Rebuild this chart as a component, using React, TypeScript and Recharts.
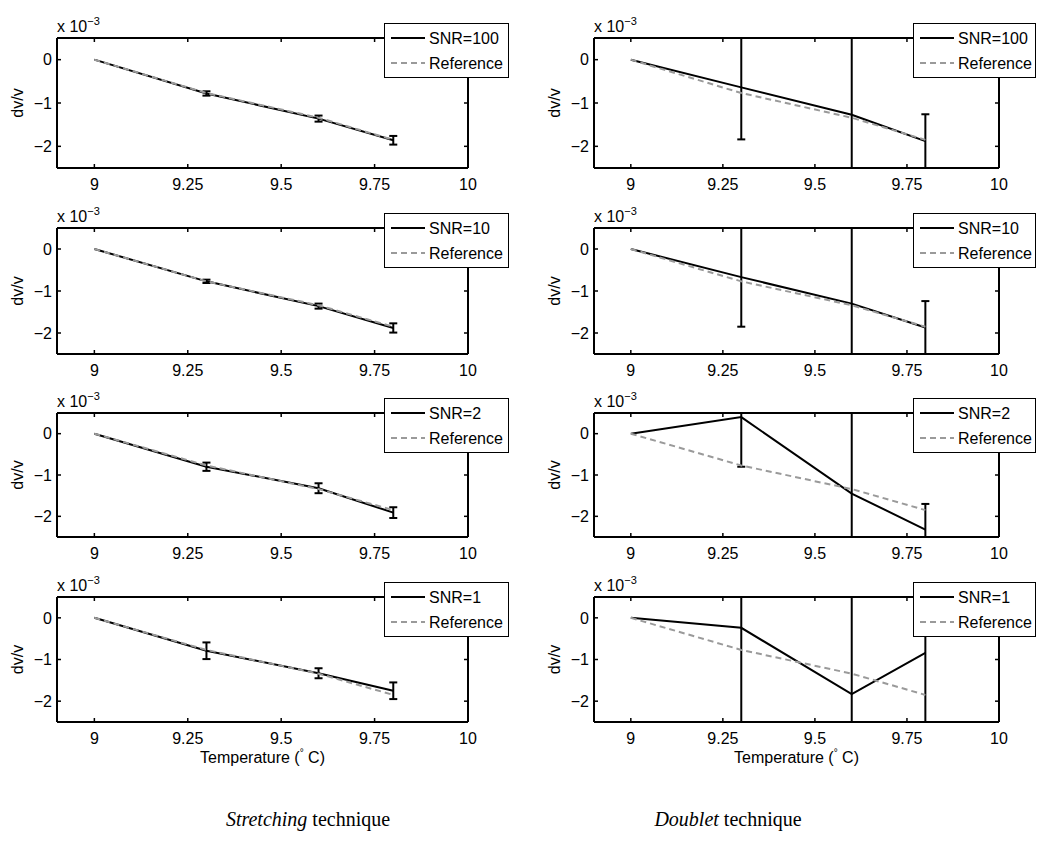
import React from "react"
import { LineChart, Line, XAxis, YAxis, ErrorBar, Legend } from "recharts"

// temperatures of the measurements (deg C)
const temperatures = [9, 9.3, 9.6, 9.8]
// true dv/v, in units of 1e-3
const reference = [0, -0.77, -1.34, -1.85]
const xTicks = [9, 9.25, 9.5, 9.75, 10]
const yTicks = [-2, -1, 0]
const snrLevels = [100, 10, 2, 1]

// Stretching technique: estimated dv/v and error (1e-3)
const stretch100 = [0, -0.78, -1.36, -1.86]
const stretch100Err = [0, 0.05, 0.07, 0.1]
const stretch10 = [0, -0.77, -1.36, -1.88]
const stretch10Err = [0, 0.04, 0.06, 0.11]
const stretch2 = [0, -0.8, -1.32, -1.91]
const stretch2Err = [0, 0.1, 0.12, 0.13]
const stretch1 = [0, -0.79, -1.33, -1.75]
const stretch1Err = [0, 0.2, 0.12, 0.2]

// Doublet technique
const doublet100 = [0, -0.64, -1.27, -1.88]
const doublet100Err = [0, 1.2, 2.0, 0.62]
const doublet10 = [0, -0.67, -1.3, -1.87]
const doublet10Err = [0, 1.18, 2.0, 0.63]
const doublet2 = [0, 0.4, -1.45, -2.32]
const doublet2Err = [0, 1.2, 2.1, 0.62]
const doublet1 = [0, -0.24, -1.83, -0.84]
const doublet1Err = [0, 2.5, 2.5, 1.9]

const stretching = [
  { est: stretch100, err: stretch100Err },
  { est: stretch10, err: stretch10Err },
  { est: stretch2, err: stretch2Err },
  { est: stretch1, err: stretch1Err },
]
const doublet = [
  { est: doublet100, err: doublet100Err },
  { est: doublet10, err: doublet10Err },
  { est: doublet2, err: doublet2Err },
  { est: doublet1, err: doublet1Err },
]

const FONT = '"Liberation Sans", Arial, Helvetica, sans-serif'
const rowTops = [38, 228, 413, 597]
const rowHeights = [130, 126, 124, 125]
const X_DOMAIN: [number, number] = [8.9, 10]
const Y_DOMAIN: [number, number] = [-2.5, 0.5]

const fmtY = (v: number) => (v < 0 ? `\u2212${-v}` : `${v}`)

const boxLine = { stroke: "#000", strokeWidth: 2 }
const tickMark = { stroke: "#000", strokeWidth: 1.5 }
// tick marks only, no label
const noLabel = () => <g />

const LegendBox = ({ payload, w }: any) => {
  const items = [...(payload || [])].sort(
    (a: any, b: any) => (a.dataKey === "ref" ? 1 : 0) - (b.dataKey === "ref" ? 1 : 0)
  )
  return (
    <svg width={w} height={55} style={{ display: "block", fontFamily: FONT }}>
      <rect x={0.5} y={0.5} width={w - 1} height={54} fill="#fff" stroke="#000" strokeWidth={1} />
      {items.map((p: any, i: number) => (
        <g key={i}>
          <line
            x1={7}
            x2={41}
            y1={15 + i * 25}
            y2={15 + i * 25}
            stroke={p.color}
            strokeWidth={2}
            strokeDasharray={p.dataKey === "ref" ? "6 4" : undefined}
          />
          <text x={45} y={15 + i * 25} dy="0.35em" fontSize={16} fill="#000">
            {p.value}
          </text>
        </g>
      ))}
    </svg>
  )
}

interface PanelProps {
  id: string
  est: number[]
  err: number[]
  snr: number
  row: number
  colLeft: number
  colWidth: number
  axisW: number
  rightM: number
  legendLeft: number
  legendW: number
  last: boolean
}

const Panel = ({ id, est, err, snr, row, colLeft, colWidth, axisW, rightM, legendLeft, legendW, last }: PanelProps) => {
  const data = temperatures.map((t, i) => ({ t, est: est[i], err: err[i], ref: reference[i] }))
  const plotH = rowHeights[row]
  const height = 38 + plotH + 50
  const plotW = colWidth - axisW - rightM
  const clipId = `eb-clip-${id}`
  return (
    <div style={{ position: "absolute", left: colLeft, top: rowTops[row] - 38 }}>
      <LineChart
        width={colWidth}
        height={height}
        data={data}
        margin={{ top: 38, right: rightM, bottom: 0, left: 0 }}
        style={{ fontFamily: FONT }}
      >
        <defs>
          <clipPath id={clipId} clipPathUnits="userSpaceOnUse">
            <rect x={axisW} y={38} width={plotW} height={plotH} />
          </clipPath>
        </defs>
        {/* labelled axes (bottom / left) */}
        <XAxis
          xAxisId="b"
          dataKey="t"
          type="number"
          domain={X_DOMAIN}
          ticks={xTicks}
          interval={0}
          allowDataOverflow
          height={50}
          tickLine={false}
          tickSize={0}
          tickMargin={11}
          axisLine={boxLine}
          tick={{ fill: "#000", fontSize: 16 }}
        />
        <YAxis
          yAxisId="l"
          type="number"
          domain={Y_DOMAIN}
          ticks={yTicks}
          interval={0}
          allowDataOverflow
          width={axisW}
          tickLine={false}
          tickSize={0}
          tickMargin={5}
          tickFormatter={fmtY}
          axisLine={boxLine}
          tick={{ fill: "#000", fontSize: 16 }}
        />
        {/* mirrored axes: inward tick marks on all four sides, top / right border */}
        <XAxis
          xAxisId="bm"
          orientation="bottom"
          mirror
          dataKey="t"
          type="number"
          domain={X_DOMAIN}
          ticks={xTicks}
          interval={0}
          allowDataOverflow
          height={1}
          tickSize={4}
          axisLine={false}
          tickLine={tickMark}
          tick={noLabel}
        />
        <XAxis
          xAxisId="t"
          orientation="top"
          mirror
          dataKey="t"
          type="number"
          domain={X_DOMAIN}
          ticks={xTicks}
          interval={0}
          allowDataOverflow
          height={1}
          tickSize={4}
          axisLine={boxLine}
          tickLine={tickMark}
          tick={noLabel}
        />
        <YAxis
          yAxisId="lm"
          orientation="left"
          mirror
          type="number"
          domain={Y_DOMAIN}
          ticks={yTicks}
          interval={0}
          allowDataOverflow
          width={1}
          tickSize={4}
          axisLine={false}
          tickLine={tickMark}
          tick={noLabel}
        />
        <YAxis
          yAxisId="r"
          orientation="right"
          mirror
          type="number"
          domain={Y_DOMAIN}
          ticks={yTicks}
          interval={0}
          allowDataOverflow
          width={1}
          tickSize={4}
          axisLine={boxLine}
          tickLine={tickMark}
          tick={noLabel}
        />
        <Line
          xAxisId="b"
          yAxisId="l"
          name={`SNR=${snr}`}
          dataKey="est"
          type="linear"
          stroke="#000"
          strokeWidth={2}
          dot={false}
          activeDot={false}
          isAnimationActive={false}
        >
          <ErrorBar
            dataKey="err"
            direction="y"
            width={4}
            stroke="#000"
            strokeWidth={2}
            clipPath={`url(#${clipId})`}
            isAnimationActive={false}
          />
        </Line>
        <Line
          xAxisId="b"
          yAxisId="l"
          name="Reference"
          dataKey="ref"
          type="linear"
          stroke="#9a9a9a"
          strokeWidth={2}
          strokeDasharray="6 4"
          dot={false}
          activeDot={false}
          isAnimationActive={false}
        />
        <Legend
          layout="horizontal"
          verticalAlign="middle"
          align="center"
          width={legendW}
          height={55}
          wrapperStyle={{ left: legendLeft, top: 23, width: legendW, height: 55 }}
          content={(props: any) => <LegendBox payload={props.payload} w={legendW} />}
        />
        <text x={axisW} y={32} fontSize={16} fill="#000" fontFamily={FONT}>
          x 10
          <tspan dy={-7} fontSize={11}>
            {"\u22123"}
          </tspan>
        </text>
        <text
          transform={`translate(${axisW - 40}, ${38 + plotH / 2}) rotate(-90)`}
          textAnchor="middle"
          dy="0.35em"
          fontSize={16}
          fill="#000"
          fontFamily={FONT}
        >
          dv/v
        </text>
        {last && (
          <text
            x={axisW + plotW / 2}
            y={38 + plotH + 41}
            textAnchor="middle"
            fontSize={16}
            fill="#000"
            fontFamily={FONT}
          >
            Temperature (
            <tspan dy={-7} fontSize={10}>
              °
            </tspan>
            <tspan dy={7}> C)</tspan>
          </text>
        )}
      </LineChart>
    </div>
  )
}

const captionStyle: React.CSSProperties = {
  position: "absolute",
  top: 808,
  transform: "translateX(-50%)",
  fontFamily: '"Liberation Serif", "DejaVu Serif", serif',
  fontSize: 20,
  whiteSpace: "nowrap",
  color: "#000",
}

export default function App() {
  return (
    <div style={{ position: "absolute", left: 0, top: 0, width: 1048, height: 854, background: "#fff" }}>
      {stretching.map((s, i) => (
        <Panel
          key={`s${i}`}
          id={`s${i}`}
          est={s.est}
          err={s.err}
          snr={snrLevels[i]}
          row={i}
          colLeft={0}
          colWidth={520}
          axisW={57}
          rightM={52}
          legendLeft={384}
          legendW={125}
          last={i === 3}
        />
      ))}
      {doublet.map((s, i) => (
        <Panel
          key={`d${i}`}
          id={`d${i}`}
          est={s.est}
          err={s.err}
          snr={snrLevels[i]}
          row={i}
          colLeft={520}
          colWidth={528}
          axisW={74}
          rightM={49}
          legendLeft={393}
          legendW={123}
          last={i === 3}
        />
      ))}
      <div style={{ ...captionStyle, left: 308 }}>
        <i>Stretching</i> technique
      </div>
      <div style={{ ...captionStyle, left: 728 }}>
        <i>Doublet</i> technique
      </div>
    </div>
  )
}
